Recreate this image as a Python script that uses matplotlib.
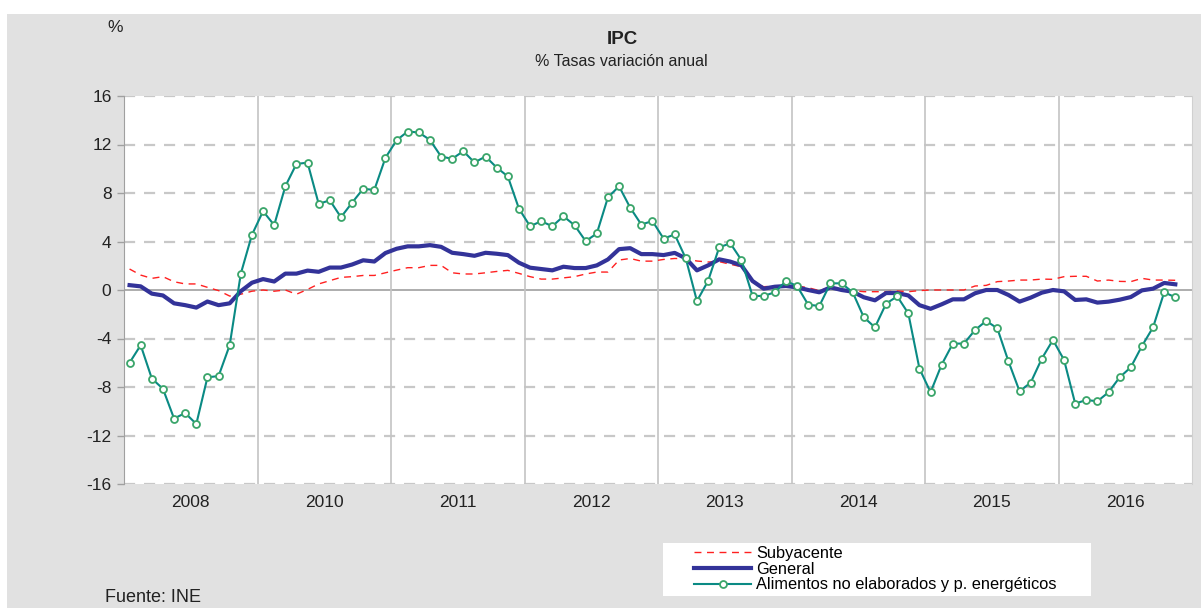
import numpy as np
import matplotlib.pyplot as plt
from matplotlib.patches import Rectangle

plt.rcParams['font.family'] = ['Liberation Sans', 'DejaVu Sans']

# Monthly annual rates, Jan 2009 .. Nov 2016
subyacente = [1.73, 1.23, 0.96, 1.1, 0.68, 0.5, 0.5, 0.22, -0.05, -0.5,
              -0.35, -0.1, 0.0, -0.1, 0.0, -0.35, 0.05, 0.5, 0.77, 1.04,
              1.1, 1.2, 1.2, 1.42, 1.64, 1.84, 1.84, 2.03, 2.03, 1.42,
              1.32, 1.32, 1.42, 1.53, 1.62, 1.37, 1.1, 0.9, 0.9, 1.0,
              1.1, 1.32, 1.48, 1.48, 2.47, 2.6, 2.38, 2.38, 2.52, 2.6,
              2.58, 2.39, 2.31, 2.34, 2.12, 1.92, 0.66, 0.27, 0.33, 0.33,
              0.33, 0.19, -0.05, 0.22, 0.0, -0.05, -0.14, -0.14, -0.14, -0.08,
              -0.14, -0.05, 0.0, 0.0, 0.0, 0.0, 0.33, 0.38, 0.69, 0.74,
              0.82, 0.82, 0.9, 0.88, 1.1, 1.13, 1.13, 0.74, 0.82, 0.71,
              0.69, 0.96, 0.82, 0.82, 0.8]

general = [0.4, 0.3, -0.3, -0.45, -1.1, -1.25, -1.45, -0.95, -1.25, -1.1,
           -0.1, 0.6, 0.9, 0.7, 1.35, 1.35, 1.6, 1.5, 1.85, 1.85,
           2.1, 2.45, 2.35, 3.05, 3.4, 3.6, 3.6, 3.7, 3.56, 3.07,
           2.96, 2.82, 3.07, 2.99, 2.88, 2.25, 1.84, 1.73, 1.62, 1.92,
           1.81, 1.81, 2.03, 2.52, 3.37, 3.45, 2.96, 2.96, 2.88, 3.06,
           2.61, 1.62, 2.03, 2.53, 2.34, 2.03, 0.74, 0.11, 0.27, 0.33,
           0.22, 0.0, -0.19, 0.22, 0.0, -0.14, -0.6, -0.85, -0.25, -0.25,
           -0.45, -1.25, -1.55, -1.18, -0.77, -0.77, -0.27, 0.0, 0.0, -0.41,
           -0.96, -0.63, -0.22, 0.0, -0.11, -0.82, -0.77, -1.04, -0.96, -0.8,
           -0.58, -0.03, 0.11, 0.58, 0.47]

alimentos = [-6.0, -4.55, -7.3, -8.15, -10.6, -10.15, -11.05, -7.2, -7.1, -4.55,
             1.35, 4.55, 6.5, 5.35, 8.55, 10.4, 10.5, 7.1, 7.4, 6.0,
             7.2, 8.35, 8.25, 10.9, 12.35, 13.07, 12.99, 12.38, 11.01, 10.82,
             11.45, 10.52, 11.01, 10.1, 9.37, 6.71, 5.26, 5.67, 5.26, 6.08,
             5.34, 4.03, 4.66, 7.64, 8.55, 6.79, 5.4, 5.69, 4.24, 4.58,
             2.6, -0.91, 0.74, 3.52, 3.85, 2.47, -0.49, -0.49, -0.19, 0.74,
             0.33, -1.21, -1.32, 0.55, 0.55, -0.19, -2.25, -3.08, -1.13, -0.52,
             -1.93, -6.48, -8.43, -6.15, -4.42, -4.42, -3.3, -2.55, -3.16, -5.88,
             -8.35, -7.64, -5.66, -4.12, -5.77, -9.37, -9.07, -9.18, -8.43, -7.2,
             -6.37, -4.62, -3.08, -0.19, -0.6]

year_labels = ['2008', '2010', '2011', '2012', '2013', '2014', '2015', '2016']
yticks = [16, 12, 8, 4, 0, -4, -8, -12, -16]

months = np.arange(len(general))

fig = plt.figure(figsize=(12.01, 6.10), dpi=100, facecolor='white')
# grey panel behind everything
fig.patches.append(Rectangle((7 / 1201, 2 / 610), 1194 / 1201, 594 / 610,
                             transform=fig.transFigure, facecolor='#e1e1e1',
                             edgecolor='none', zorder=-10))
# white legend box
fig.patches.append(Rectangle((663 / 1201, 1 - 596 / 610), 428 / 1201, 53 / 610,
                             transform=fig.transFigure, facecolor='white',
                             edgecolor='none', zorder=-5))

ax = fig.add_axes([124 / 1201, 1 - 484 / 610, (1192 - 124) / 1201, (484 - 96) / 610])
ax.set_facecolor('white')

# grid
for y in yticks:
    if y == 0:
        ax.axhline(0, color='#a0a0a0', lw=1.2, zorder=1)
    else:
        ax.axhline(y, color='#c8c8c8', lw=1.6, ls=(0, (5, 4)), zorder=1)
for k in range(1, len(year_labels)):
    ax.axvline(12 * k - 0.5, color='#c4c4c4', lw=1.2, zorder=1)

ax.plot(months, subyacente, color='#ff2020', lw=1.0, ls=(0, (5, 4)), zorder=3,
        label='Subyacente')
ax.plot(months, general, color='#333399', lw=3.0, zorder=4, label='General')
ax.plot(months, alimentos, color='#0a8a84', lw=1.5, marker='o', ms=5,
        mfc='white', mec='#3aa56a', mew=1.3, zorder=5,
        label='Alimentos no elaborados y p. energéticos')

ax.set_xlim(-0.5, 95.5)
ax.set_ylim(-16, 16)
ax.set_yticks(yticks)
ax.set_yticklabels([str(v) for v in yticks])
ax.set_xticks([12 * k + 5.5 for k in range(len(year_labels))])
ax.set_xticklabels(year_labels)
ax.tick_params(axis='x', length=0, pad=8, labelsize=12.5, colors='#222222')
ax.tick_params(axis='y', length=5, width=1, color='#a0a0a0', pad=4,
               labelsize=12.5, labelcolor='#222222')

for s in ['top', 'bottom']:
    ax.spines[s].set_visible(False)
ax.spines['left'].set_color('#a0a0a0')
ax.spines['right'].set_color('#d0d0d0')

fig.text(622 / 1201, 1 - 40 / 610, 'IPC', ha='center', va='center',
         fontsize=13.5, fontweight='bold', color='#222222')
fig.text(621 / 1201, 1 - 62 / 610, '% Tasas variación anual', ha='center',
         va='center', fontsize=11.5, color='#222222')
fig.text(115 / 1201, 1 - 28 / 610, '%', ha='center', va='center',
         fontsize=12.5, color='#222222')
fig.text(105 / 1201, 1 - 597 / 610, 'Fuente: INE', ha='left', va='center',
         fontsize=13, color='#222222')

leg = fig.legend(loc='center left', bbox_to_anchor=(694 / 1201, 1 - 569 / 610),
                 frameon=False, fontsize=11.8, handlelength=3.5,
                 handletextpad=0.3, labelspacing=0.05, borderpad=0,
                 borderaxespad=0)
leg.legend_handles[2].set_markevery([1])

fig.savefig('out.png', dpi=100, facecolor='white')
